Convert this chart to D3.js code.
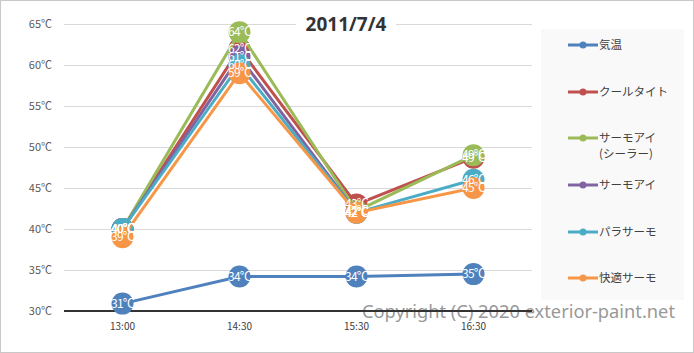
<!DOCTYPE html>
<html>
<head>
<meta charset="utf-8">
<script src="https://cdn.jsdelivr.net/npm/d3@7"></script>
<style>
  body { margin: 0; background: #fff; }
  svg { display: block; font-family: "Noto Sans CJK JP", "Noto Sans", sans-serif; }
</style>
</head>
<body>
<script>
// chart data
const times = ["13:00", "14:30", "15:30", "16:30"];
const seriesNames = ["気温", "クールタイト", "サーモアイ\n(シーラー)", "サーモアイ", "パラサーモ", "快適サーモ"];
const colors = ["#4f81bd", "#c0504d", "#9bbb59", "#8064a2", "#4bacc6", "#f79646"];
const kion = [30.9, 34.2, 34.2, 34.5];
const coolTight = [40, 62, 43, 48.7];
const thermoSealer = [40, 64, 42.2, 49];
const thermoEye = [40, 61, 42, null];
const paraThermo = [40, 60, 42, 46];
const kaitekiThermo = [39, 59, 42, 45];
const yTicks = [30, 35, 40, 45, 50, 55, 60, 65];
const title = "2011/7/4";

const allValues = [kion, coolTight, thermoSealer, thermoEye, paraThermo, kaitekiThermo];

const width = 694, height = 353;
const margin = {top: 24, right: 162, bottom: 42, left: 64};

const svg = d3.select("body").append("svg")
    .attr("width", width)
    .attr("height", height);

svg.append("rect")
    .attr("x", 0.5).attr("y", 0.5)
    .attr("width", width - 1).attr("height", height - 1)
    .attr("fill", "#fff")
    .attr("stroke", "#c8c8c8");

const x = d3.scalePoint()
    .domain(times)
    .range([margin.left, width - margin.right])
    .padding(0.5);

const y = d3.scaleLinear()
    .domain([30, 65])
    .range([height - margin.bottom, margin.top]);

// grid
svg.append("g")
  .selectAll("line")
  .data(yTicks.slice(1))
  .join("line")
    .attr("x1", margin.left)
    .attr("x2", width - margin.right)
    .attr("y1", d => y(d) + 0.5)
    .attr("y2", d => y(d) + 0.5)
    .attr("stroke", "#d9d9d9");

// y labels
svg.append("g")
  .selectAll("text")
  .data(yTicks)
  .join("text")
    .attr("x", 52)
    .attr("y", d => y(d) + 4)
    .attr("text-anchor", "end")
    .attr("font-size", 11)
    .attr("fill", "#595959")
    .text(d => d + "℃");

// copyright (sits behind the axis line)
svg.append("text")
    .attr("x", 362)
    .attr("y", 318)
    .attr("font-family", "Noto Sans, sans-serif")
    .attr("font-size", 18)
    .attr("fill", "#999")
    .attr("textLength", 313)
    .attr("lengthAdjust", "spacingAndGlyphs")
    .text("Copyright (C) 2020 exterior-paint.net");

// x axis line
svg.append("line")
    .attr("x1", margin.left)
    .attr("x2", width - margin.right)
    .attr("y1", y(30))
    .attr("y2", y(30))
    .attr("stroke", "#333")
    .attr("stroke-width", 2);

svg.append("g")
  .selectAll("text")
  .data(times)
  .join("text")
    .attr("x", d => x(d))
    .attr("y", 330)
    .attr("text-anchor", "middle")
    .attr("font-size", 10)
    .attr("fill", "#404040")
    .text(d => d);

// title
const tg = svg.append("g");
tg.append("rect")
    .attr("x", 296).attr("y", 12)
    .attr("width", 100).attr("height", 26)
    .attr("fill", "#fff");
tg.append("text")
    .attr("x", 346)
    .attr("y", 31)
    .attr("text-anchor", "middle")
    .attr("font-family", "Open Sans, sans-serif")
    .attr("font-weight", "bold")
    .attr("font-size", 19)
    .attr("fill", "#333")
    .text(title);

const line = d3.line()
    .defined(d => d != null)
    .x((d, i) => x(times[i]))
    .y(d => y(d));

// lines + markers per series
allValues.forEach((vals, si) => {
  const g = svg.append("g");
  g.append("path")
      .datum(vals)
      .attr("fill", "none")
      .attr("stroke", colors[si])
      .attr("stroke-width", 3)
      .attr("d", line);
  g.selectAll("circle")
    .data(vals.map((v, i) => ({v, i})).filter(d => d.v != null))
    .join("circle")
      .attr("cx", d => x(times[d.i]))
      .attr("cy", d => y(d.v))
      .attr("r", 11)
      .attr("fill", colors[si]);
});

// data labels
allValues.forEach((vals, si) => {
  svg.append("g")
    .selectAll("text")
    .data(vals.map((v, i) => ({v, i})).filter(d => d.v != null))
    .join("text")
      .attr("x", d => x(times[d.i]))
      .attr("y", d => y(d.v) + 4)
      .attr("text-anchor", "middle")
      .attr("font-size", 12)
      .attr("letter-spacing", -0.8)
      .attr("fill", "#fff")
      .text(d => Math.round(d.v) + "℃");
});

// legend
const lg = svg.append("g");
lg.append("rect")
    .attr("x", 541).attr("y", 29)
    .attr("width", 143).attr("height", 271)
    .attr("fill", "#f9f9fa");

const legendY = [45, 92, 138, 185, 232, 278];
seriesNames.forEach((name, i) => {
  const ly = legendY[i];
  lg.append("line")
      .attr("x1", 568).attr("x2", 598)
      .attr("y1", ly).attr("y2", ly)
      .attr("stroke", colors[i])
      .attr("stroke-width", 3);
  lg.append("circle")
      .attr("cx", 583).attr("cy", ly)
      .attr("r", 3.5)
      .attr("fill", colors[i]);
  name.split("\n").forEach((part, j) => {
    lg.append("text")
        .attr("x", 599)
        .attr("y", ly + 4 + j * 16)
        .attr("font-size", 11.5)
        .attr("fill", "#404040")
        .text(part);
  });
});
</script>
</body>
</html>
